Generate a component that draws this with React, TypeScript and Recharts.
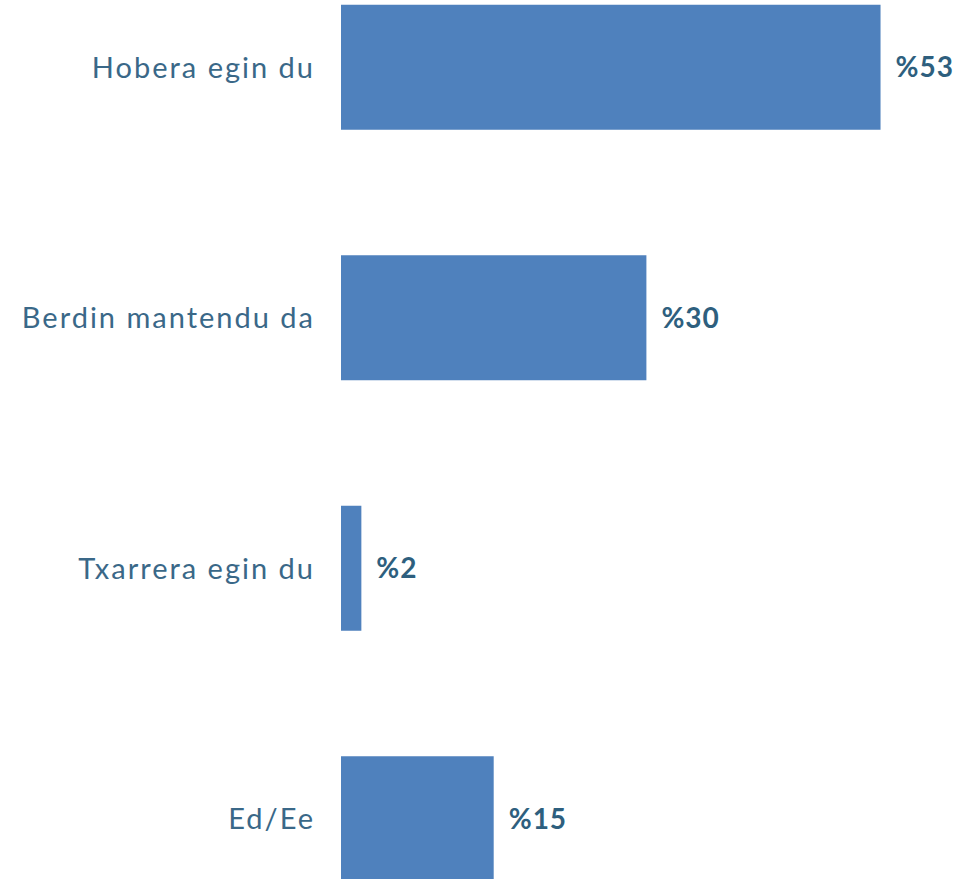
import React from 'react';
import { BarChart, Bar, XAxis, YAxis, LabelList } from 'recharts';

const categories = ['Hobera egin du', 'Berdin mantendu da', 'Txarrera egin du', 'Ed/Ee'];
const shares = [53, 30, 2, 15];

const data = categories.map((name, i) => ({ name, value: shares[i] }));

const TEXT_COLOR = '#3a6888';
const BAR_COLOR = '#4f81bd';

export default function App() {
  return (
    <div
      style={{
        position: 'absolute',
        left: 0,
        top: 0,
        width: 963,
        height: 879,
        overflow: 'hidden',
        background: '#fff',
      }}
    >
      <div style={{ marginTop: -58 }}>
        <BarChart
          width={963}
          height={1002}
          data={data}
          layout="vertical"
          barCategoryGap="25%"
          margin={{ top: 0, right: 0, bottom: 0, left: 0 }}
        >
          <XAxis type="number" domain={[0, 61.1]} hide />
          <YAxis
            type="category"
            dataKey="name"
            width={341}
            axisLine={false}
            tickLine={false}
            tickSize={0}
            tickMargin={26}
            tick={{ fill: TEXT_COLOR, fontSize: 29, fontFamily: 'Lato', letterSpacing: 2 }}
          />
          <Bar dataKey="value" fill={BAR_COLOR} isAnimationActive={false}>
            <LabelList
              dataKey="value"
              position="right"
              offset={15}
              formatter={(v: number) => `%${v}`}
              style={{ fill: '#2e5f7e', fontSize: 28, fontWeight: 700, fontFamily: 'Lato', letterSpacing: 1 }}
            />
          </Bar>
        </BarChart>
      </div>
    </div>
  );
}
